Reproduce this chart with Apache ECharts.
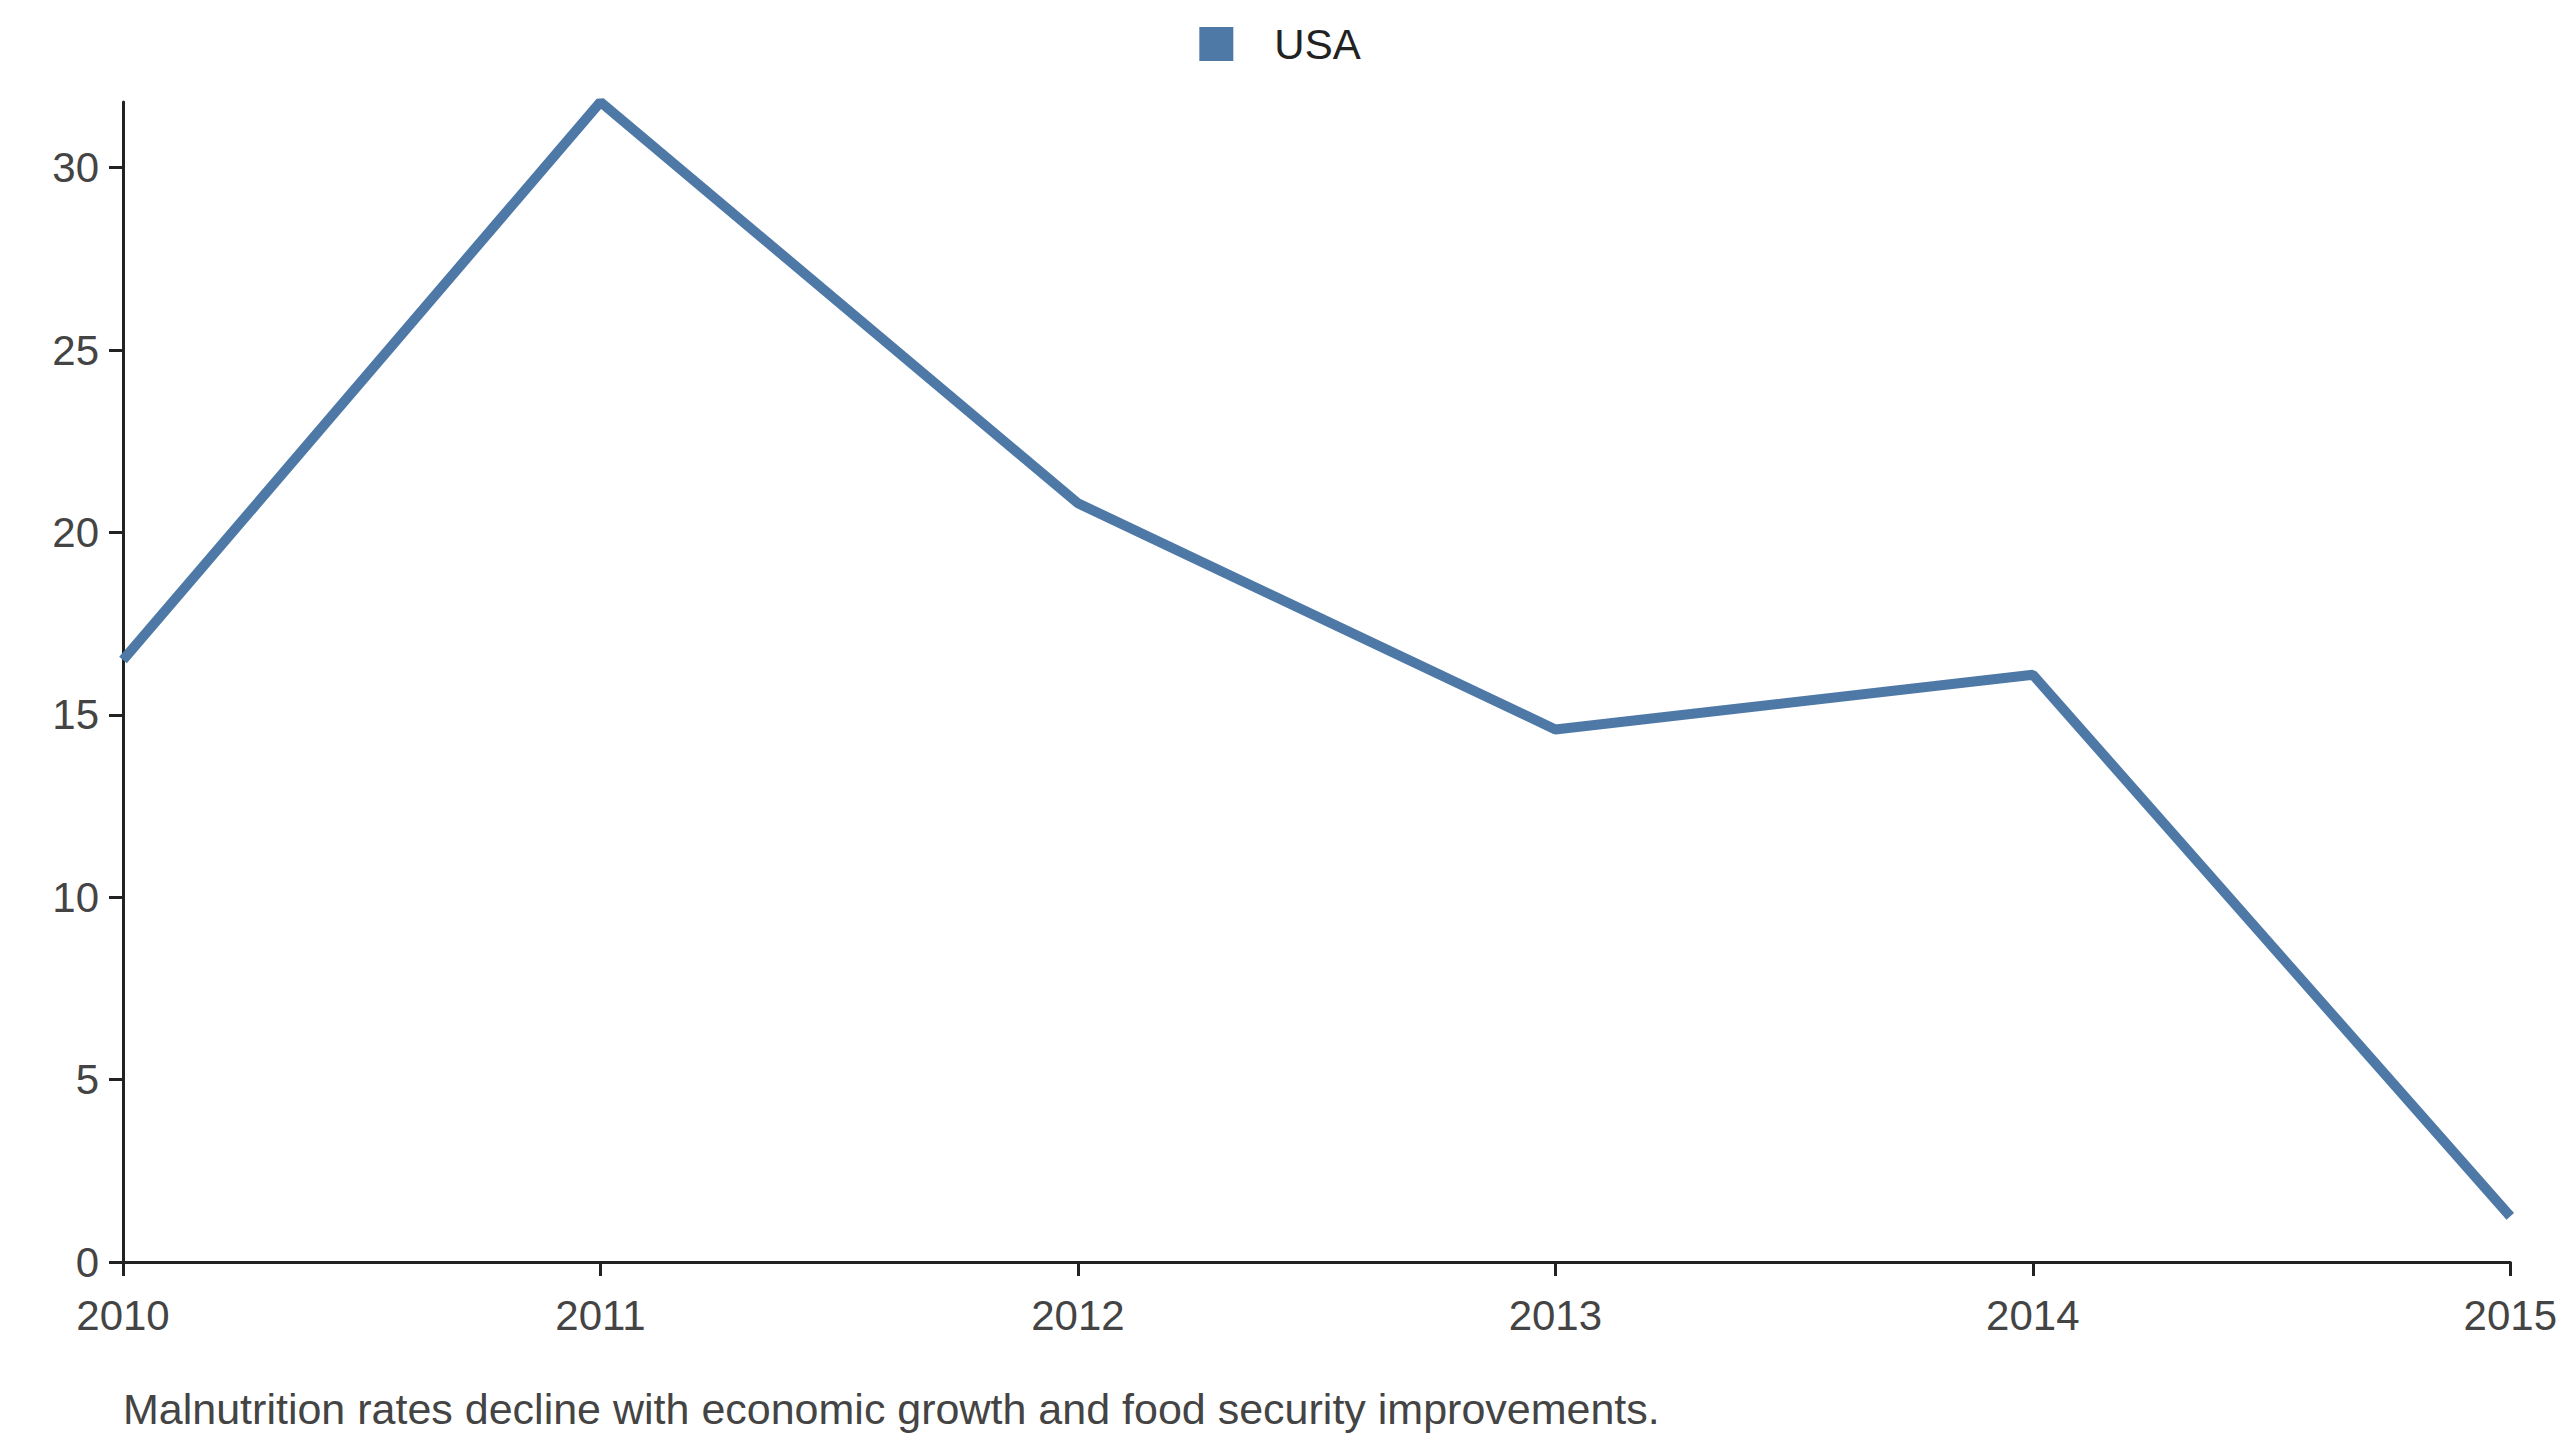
<!DOCTYPE html>
<html>
<head>
<meta charset="utf-8">
<script src="https://cdn.jsdelivr.net/npm/echarts@6/dist/echarts.min.js"></script>
<style>
  html, body { margin: 0; padding: 0; background: #fff; }
  #chart { width: 2560px; height: 1440px; }
</style>
</head>
<body>
<div id="chart"></div>
<script>
var years = ['2010', '2011', '2012', '2013', '2014', '2015'];
var usaValues = [16.5, 31.8, 20.8, 14.6, 16.1, 1.25];
var caption = 'Malnutrition rates decline with economic growth and food security improvements.';

var chart = echarts.init(document.getElementById('chart'), null, { renderer: 'svg' });
chart.setOption({
  animation: false,
  textStyle: { fontFamily: 'Arial, "Liberation Sans", sans-serif' },
  legend: {
    data: ['USA'],
    top: 18,
    left: 'center',
    itemWidth: 34,
    itemHeight: 34,
    icon: 'rect',
    textStyle: { color: '#222', fontSize: 42, padding: [0, 0, 0, 36] }
  },
  grid: { left: 123, right: 24, top: 102, bottom: 178 },
  xAxis: {
    type: 'category',
    data: years,
    boundaryGap: false,
    axisLine: { lineStyle: { color: '#222', width: 3 } },
    axisTick: { length: 14, lineStyle: { color: '#222', width: 3 } },
    axisLabel: { color: '#444', fontSize: 42, margin: 32 }
  },
  yAxis: {
    type: 'value',
    min: 0,
    max: 'dataMax',
    interval: 5,
    axisLine: { show: true, lineStyle: { color: '#222', width: 3 } },
    axisTick: { show: true, length: 14, lineStyle: { color: '#222', width: 3 } },
    axisLabel: { color: '#444', fontSize: 42, margin: 24, showMaxLabel: false },
    splitLine: { show: false }
  },
  series: [{
    name: 'USA',
    type: 'line',
    data: usaValues,
    symbol: 'none',
    lineStyle: { color: '#4e79a7', width: 10 },
    itemStyle: { color: '#4e79a7' }
  }],
  graphic: [{
    type: 'text',
    left: 123,
    top: 1387,
    style: { text: caption, fill: '#444', fontSize: 43, fontFamily: 'Arial, "Liberation Sans", sans-serif' }
  }]
});
</script>
</body>
</html>
